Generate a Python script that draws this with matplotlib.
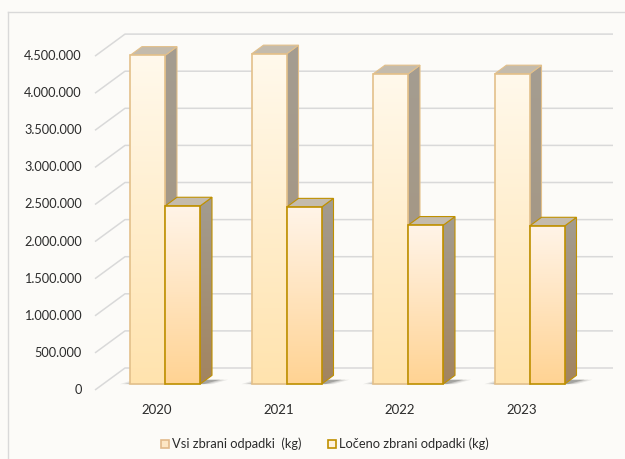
"""3D-style grouped column chart: collected vs separately collected waste (kg)."""

import matplotlib.pyplot as plt
import numpy as np
from matplotlib.colors import LinearSegmentedColormap
from matplotlib.lines import Line2D
from matplotlib.patches import Patch, Polygon

plt.rcParams["font.family"] = ["Lato", "DejaVu Sans"]

years = ["2020", "2021", "2022", "2023"]
vsi_kg = [4_430_000, 4_450_000, 4_180_000, 4_180_000]
loceno_kg = [2_400_000, 2_385_000, 2_140_000, 2_130_000]
y_ticks = [0, 500_000, 1_000_000, 1_500_000, 2_000_000, 2_500_000,
           3_000_000, 3_500_000, 4_000_000, 4_500_000]
series_labels = ["Vsi zbrani odpadki  (kg)", "Ločeno zbrani odpadki (kg)"]

# colours: (front top, front bottom, edge, side top, side bottom, top face)
STYLE = {
    "vsi": ("#FFF9EC", "#FFE3AE", "#E3C08A", "#A49D91", "#A5937B", "#C4BBAC"),
    "loceno": ("#FFF4E8", "#FFD393", "#BF9000", "#A39C90", "#A2845F", "#C4BBAC"),
}
BG = "#FCFBF8"
GRID = "#D9D9D9"
TEXT = "#2B2B2B"

# projection: front-plane pixels per category / per kg, oblique depth direction
PX_CAT = 121.5
PX_KG = 74.2 / 1e6
ORIGIN_X, ORIGIN_Y = 157, 390          # front-plane pixel of (0, 0)
FIG_W, FIG_H = 625, 459
DEPTH_SLOPE = 22 / 30
BAR_W = 35 / PX_CAT
BAR_D0, BAR_D1, WALL_D = 8, 20, 30     # depths in px
WALL_L = (95 - ORIGIN_X) / PX_CAT
WALL_R = (583 - ORIGIN_X) / PX_CAT


def shift(x, y, d=0.0, px=0.0, py=0.0):
    """Move a data point back by depth d (px) and by extra pixel offsets."""
    return (x + (d + px) / PX_CAT, y + (d * DEPTH_SLOPE + py) / PX_KG)


def gradient_poly(ax, pts, top, bottom, edge, z, lw=1.0):
    poly = Polygon(pts, closed=True, facecolor="none", edgecolor=edge, linewidth=lw, zorder=z + 0.5)
    ax.add_patch(poly)
    xs, ys = zip(*pts)
    cmap = LinearSegmentedColormap.from_list("g", [bottom, top])
    grad = np.linspace(0, 1, 128).reshape(-1, 1)
    im = ax.imshow(grad, cmap=cmap, origin="lower", aspect="auto", interpolation="bilinear",
                   extent=(min(xs), max(xs), min(ys), max(ys)), zorder=z)
    im.set_clip_path(poly)


def draw_bar(ax, x0, value, style, z):
    f_top, f_bot, edge, s_top, s_bot, t_col = style
    x1 = x0 + BAR_W
    fbl, fbr = shift(x0, 0, BAR_D0), shift(x1, 0, BAR_D0)
    ftl, ftr = shift(x0, value, BAR_D0), shift(x1, value, BAR_D0)
    bbr, btr = shift(x1, 0, BAR_D1), shift(x1, value, BAR_D1)
    btl = shift(x0, value, BAR_D1)
    gradient_poly(ax, [fbr, bbr, btr, ftr], s_top, s_bot, edge, z, lw=0.8)
    ax.add_patch(Polygon([ftl, ftr, btr, btl], closed=True, facecolor=t_col,
                         edgecolor=edge, linewidth=0.8, zorder=z + 0.5))
    gradient_poly(ax, [fbl, fbr, ftr, ftl], f_top, f_bot, edge, z + 1, lw=1.2)


fig = plt.figure(figsize=(FIG_W / 100, FIG_H / 100), dpi=100)
fig.patch.set_facecolor(BG)
ax = fig.add_axes([0, 0, 1, 1])
ax.set_facecolor(BG)
ax.axis("off")

# chart border
fig.add_artist(Line2D([8 / FIG_W, 8 / FIG_W], [0, 1 - 12 / FIG_H], color=GRID, lw=1.0))
fig.add_artist(Line2D([8 / FIG_W, 1], [1 - 12 / FIG_H, 1 - 12 / FIG_H], color=GRID, lw=1.0))

# back wall + side wall gridlines and value labels
for v in y_ticks:
    fx, fy = shift(WALL_L, v)
    bx, by = shift(WALL_L, v, WALL_D)
    rx, _ = shift(WALL_R, v, WALL_D)
    ax.plot([fx, bx, rx], [fy, by, by], color=GRID, lw=1.1, zorder=1, solid_capstyle="butt")
    lx, ly = shift(WALL_L, v, px=-13)
    ax.text(lx, ly, f"{v:,}".replace(",", "."), ha="right", va="center", fontsize=9.2, color=TEXT)

# floor shadows, bars and category labels
for i, (year, a, b) in enumerate(zip(years, vsi_kg, loceno_kg)):
    left, right = i - BAR_W, i + BAR_W
    for grow, alpha in [(12, 0.10), (8, 0.15), (4, 0.28)]:
        pts = [shift(left, 0, BAR_D0, px=-grow + 2), shift(right, 0, BAR_D0, px=grow),
               shift(right, 0, BAR_D1 - 6, px=grow + 10), shift(left, 0, BAR_D1 - 6, px=-grow + 10)]
        ax.add_patch(Polygon(pts, closed=True, facecolor="#3A3A3A", edgecolor="none",
                             alpha=alpha, zorder=2))
    draw_bar(ax, left, a, STYLE["vsi"], 3 + i * 4)
    draw_bar(ax, i, b, STYLE["loceno"], 5 + i * 4)
    tx, ty = shift(i, 0, py=-20)
    ax.text(tx, ty, year, ha="center", va="center", fontsize=9.5, color=TEXT)

ax.set_xlim(-ORIGIN_X / PX_CAT, (FIG_W - ORIGIN_X) / PX_CAT)
ax.set_ylim(-(FIG_H - ORIGIN_Y) / PX_KG, ORIGIN_Y / PX_KG)

handles = [
    Patch(facecolor="#FDE6C4", edgecolor="#E2B98A", linewidth=1.2, label=series_labels[0]),
    Patch(facecolor="#FFF3DF", edgecolor="#BF9000", linewidth=1.2, label=series_labels[1]),
]
fig.legend(handles=handles, loc="center", bbox_to_anchor=(325 / FIG_W, 1 - 444 / FIG_H),
           ncol=2, frameon=False, fontsize=9.3, handlelength=0.6, handleheight=0.6,
           handletextpad=0.3, columnspacing=2.0, labelcolor=TEXT)

fig.savefig("out.png", dpi=100, facecolor=BG)
